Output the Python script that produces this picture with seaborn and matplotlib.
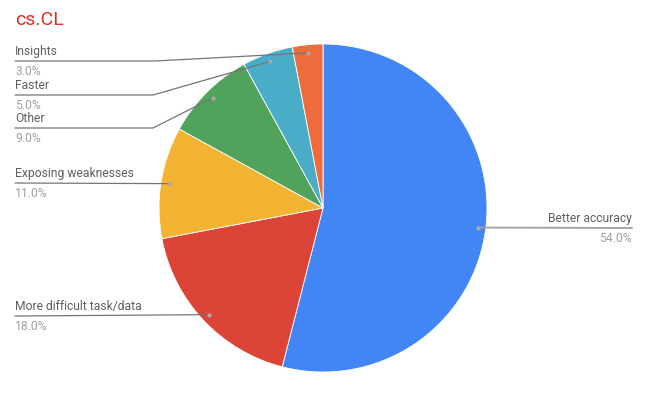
import matplotlib
matplotlib.use("Agg")
import matplotlib.pyplot as plt
import seaborn as sns
import numpy as np

# data (clockwise from 12 o'clock)
labels = ["Better accuracy", "More difficult task/data", "Exposing weaknesses",
          "Other", "Faster", "Insights"]
shares = [54.0, 18.0, 11.0, 9.0, 5.0, 3.0]
colors = ["#4285F4", "#DB4437", "#F4B433", "#51A35B", "#4AADC7", "#EE6C3B"]

sns.set_theme(style="white")
plt.rcParams["font.family"] = ["Roboto", "DejaVu Sans"]

W, H = 654, 400
fig = plt.figure(figsize=(W / 100, H / 100), dpi=100)
ax = fig.add_axes([0, 0, 1, 1])
ax.axis("off")

cx, cy, R = 323, H - 208, 164
wedges, _ = ax.pie(shares, colors=sns.color_palette(colors), startangle=90,
                   counterclock=False, center=(cx, cy), radius=R,
                   wedgeprops=dict(edgecolor="white", linewidth=0.6))
ax.set_xlim(0, W)
ax.set_ylim(0, H)
ax.set_aspect("equal")

# label placement: (line y in px from top, elbow x, text side)
layout = {
    "Better accuracy": (228, None, "right"),
    "More difficult task/data": (316, None, "left"),
    "Exposing weaknesses": (183, None, "left"),
    "Other": (128, 153, "left"),
    "Faster": (95, 153, "left"),
    "Insights": (61, 155, "left"),
}

line_c = "#757575"
fs = 8.7
for w, lab, val in zip(wedges, labels, shares):
    mid = np.deg2rad((w.theta1 + w.theta2) / 2)
    dx, dy = cx + 0.95 * R * np.cos(mid), cy + 0.95 * R * np.sin(mid)
    ly, ex, side = layout[lab]
    ly = H - ly
    if side == "right":
        ax.plot([dx, 632], [dy, ly], color="#9e9e9e", lw=1.3)
        tx, ha = 632, "right"
    else:
        if ex is None:
            ax.plot([15, dx], [ly, dy], color=line_c, lw=0.9)
        else:
            ax.plot([15, ex, dx], [ly, ly, dy], color=line_c, lw=0.9)
        tx, ha = 15, "left"
    ax.plot(dx, dy, "o", ms=3, color="#a8a8a8", mec="none")
    ax.text(tx, ly + 3, lab, ha=ha, va="bottom", fontsize=fs, color="#5f5f5f")
    ax.text(tx, ly - 4, f"{val:.1f}%", ha=ha, va="top", fontsize=fs, color="#a0a0a0")

fig.text(15 / W, 1 - 20 / H, "cs.CL", ha="left", va="center", fontsize=14,
         color="#D93025")

fig.savefig("out.png", dpi=100)
